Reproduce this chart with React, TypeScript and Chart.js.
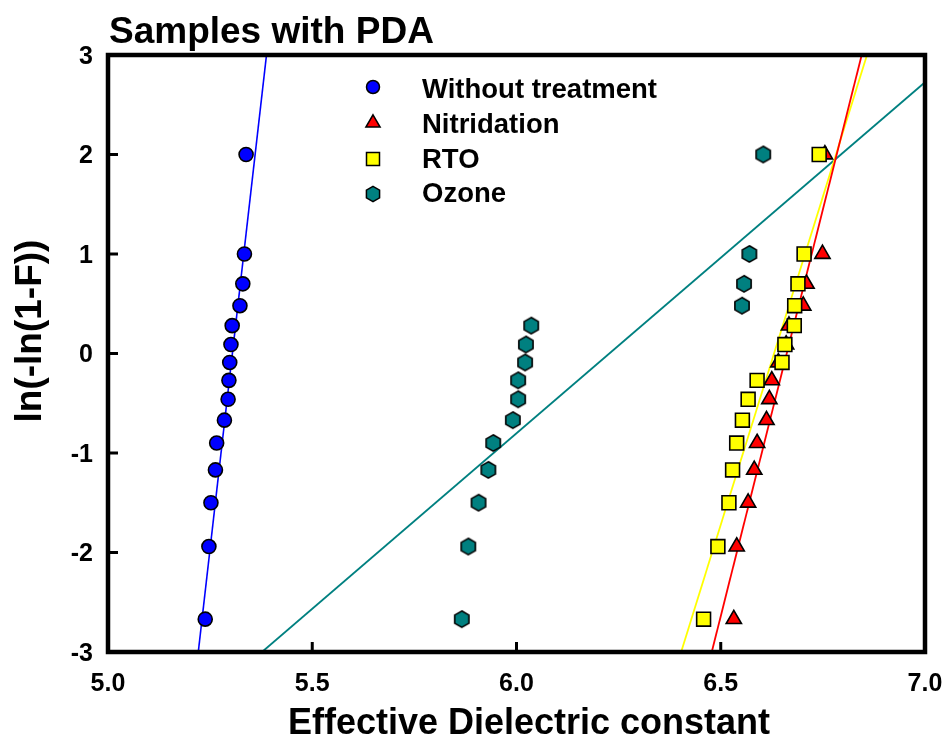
import React, { useEffect, useRef } from 'react';
import { Chart, registerables } from 'chart.js';

Chart.register(...registerables);

// ---- data ----
const probY = [-2.67, -1.94, -1.5, -1.17, -0.9, -0.67, -0.46, -0.27, -0.09, 0.09, 0.28, 0.48, 0.7, 1.0, 2.0];
const withoutX = [5.238, 5.247, 5.252, 5.263, 5.266, 5.285, 5.294, 5.296, 5.298, 5.301, 5.304, 5.323, 5.33, 5.334, 5.338];
const nitridationX = [6.532, 6.539, 6.567, 6.582, 6.589, 6.612, 6.619, 6.625, 6.641, 6.66, 6.667, 6.702, 6.71, 6.749, 6.755];
const rtoX = [6.458, 6.493, 6.52, 6.529, 6.539, 6.553, 6.567, 6.589, 6.65, 6.657, 6.68, 6.681, 6.689, 6.704, 6.741];
const ozoneX = [5.866, 5.882, 5.907, 5.931, 5.943, 5.991, 6.004, 6.004, 6.021, 6.023, 6.036, 6.552, 6.557, 6.57, 6.604];

const fitY = [-3, 3];
const withoutFitX = [5.221, 5.388];
const nitridationFitX = [6.478, 6.845];
const rtoFitX = [6.403, 6.858];
const ozoneFitX = [5.377, 7.0];
const ozoneFitY = [-3, 2.726];

const xTicks = [5.0, 5.5, 6.0, 6.5, 7.0];
const yTicks = [-3, -2, -1, 0, 1, 2, 3];
const seriesNames = ['Without treatment', 'Nitridation', 'RTO', 'Ozone'];
const titleText = 'Samples with PDA';
const xTitle = 'Effective Dielectric constant';
const yTitle = 'ln(-ln(1-F))';

const BLUE = '#0000FF';
const RED = '#FF0000';
const YELLOW = '#FFFF00';
const TEAL = '#008080';
const FONT = "'Liberation Sans', Arial, Helvetica, sans-serif";

function hexPath(ctx: CanvasRenderingContext2D, cx: number, cy: number, r: number) {
  ctx.beginPath();
  for (let i = 0; i < 6; i++) {
    const a = -Math.PI / 2 + (i * Math.PI) / 3;
    const px = cx + r * Math.cos(a);
    const py = cy + r * Math.sin(a);
    if (i === 0) ctx.moveTo(px, py);
    else ctx.lineTo(px, py);
  }
  ctx.closePath();
}

function makeHexagon(): HTMLCanvasElement {
  const c = document.createElement('canvas');
  c.width = 20;
  c.height = 20;
  const ctx = c.getContext('2d')!;
  hexPath(ctx, 10, 10, 8.2);
  ctx.fillStyle = TEAL;
  ctx.fill();
  ctx.lineWidth = 1.6;
  ctx.strokeStyle = '#000';
  ctx.stroke();
  return c;
}

const pts = (xs: number[], ys: number[]) => xs.map((x, i) => ({ x, y: ys[i] }));

export default function App() {
  const ref = useRef<HTMLCanvasElement>(null);

  useEffect(() => {
    document.body.style.margin = '0';
    const hex = makeHexagon();

    const framePlugin = {
      id: 'frame',
      afterDatasetsDraw(chart: any) {
        const { ctx, chartArea } = chart;
        const { left, right, top, bottom } = chartArea;
        const xs = chart.scales.x;
        const ys = chart.scales.y;
        ctx.save();
        ctx.strokeStyle = '#000';
        ctx.lineWidth = 3;
        ctx.lineCap = 'butt';
        xTicks.forEach((v) => {
          const px = xs.getPixelForValue(v);
          ctx.beginPath();
          ctx.moveTo(px, bottom);
          ctx.lineTo(px, bottom - 10);
          ctx.stroke();
        });
        yTicks.forEach((v) => {
          const py = ys.getPixelForValue(v);
          ctx.beginPath();
          ctx.moveTo(left, py);
          ctx.lineTo(left + 10, py);
          ctx.stroke();
        });
        ctx.lineWidth = 4.5;
        ctx.lineJoin = 'miter';
        ctx.strokeRect(left, top, right - left, bottom - top);
        ctx.restore();
      },
      afterDraw(chart: any) {
        const { ctx } = chart;
        ctx.save();
        ctx.fillStyle = '#000';
        // title
        ctx.font = `bold 37px ${FONT}`;
        ctx.textAlign = 'left';
        ctx.textBaseline = 'alphabetic';
        ctx.fillText(titleText, 109, 43);
        // axis titles
        ctx.font = `bold 36px ${FONT}`;
        ctx.textAlign = 'center';
        ctx.textBaseline = 'middle';
        ctx.fillText(xTitle, 529, 724);
        ctx.save();
        ctx.translate(31, 331);
        ctx.rotate(-Math.PI / 2);
        ctx.font = `bold 37px ${FONT}`;
        ctx.fillText(yTitle, 0, 0);
        ctx.restore();
        // legend
        const mx = 373;
        const my = [87, 123, 159, 194];
        const tb = [98, 133, 168, 202];
        ctx.lineWidth = 1.5;
        ctx.strokeStyle = '#000';
        ctx.beginPath();
        ctx.arc(mx, my[0], 6.5, 0, Math.PI * 2);
        ctx.fillStyle = BLUE;
        ctx.fill();
        ctx.stroke();
        const r = 8.2;
        ctx.beginPath();
        ctx.moveTo(mx, my[1] - r);
        ctx.lineTo(mx + r * 0.866, my[1] + r * 0.5);
        ctx.lineTo(mx - r * 0.866, my[1] + r * 0.5);
        ctx.closePath();
        ctx.fillStyle = RED;
        ctx.fill();
        ctx.stroke();
        ctx.beginPath();
        ctx.rect(mx - 6.5, my[2] - 6.5, 13, 13);
        ctx.fillStyle = YELLOW;
        ctx.fill();
        ctx.stroke();
        hexPath(ctx, mx, my[3], 7.6);
        ctx.fillStyle = TEAL;
        ctx.fill();
        ctx.stroke();
        ctx.fillStyle = '#000';
        ctx.font = `bold 27.5px ${FONT}`;
        ctx.textAlign = 'left';
        ctx.textBaseline = 'alphabetic';
        seriesNames.forEach((n, i) => ctx.fillText(n, 422, tb[i]));
        ctx.restore();
      },
    };

    const lineDs = (label: string, xs: number[], ys: number[], color: string, w: number) => ({
      label,
      data: pts(xs, ys),
      showLine: true,
      borderColor: color,
      backgroundColor: color,
      borderWidth: w,
      pointRadius: 0,
      fill: false,
      order: 10,
    });

    const chart = new Chart(ref.current!, {
      type: 'scatter',
      data: {
        datasets: [
          lineDs('fit1', withoutFitX, fitY, BLUE, 1.6),
          lineDs('fit2', nitridationFitX, fitY, RED, 1.8),
          lineDs('fit3', rtoFitX, fitY, YELLOW, 1.8),
          lineDs('fit4', ozoneFitX, ozoneFitY, TEAL, 1.8),
          {
            label: seriesNames[0],
            data: pts(withoutX, probY),
            pointStyle: 'circle',
            pointRadius: 7,
            backgroundColor: BLUE,
            borderColor: '#000',
            borderWidth: 1.6,
            order: 4,
          },
          {
            label: seriesNames[1],
            data: pts(nitridationX, probY),
            pointStyle: 'triangle',
            pointRadius: 8.8,
            backgroundColor: RED,
            borderColor: '#000',
            borderWidth: 1.6,
            order: 3,
          },
          {
            label: seriesNames[2],
            data: pts(rtoX, probY),
            pointStyle: 'rect',
            pointRadius: 9.8,
            backgroundColor: YELLOW,
            borderColor: '#000',
            borderWidth: 1.6,
            order: 2,
          },
          {
            label: seriesNames[3],
            data: pts(ozoneX, probY),
            pointStyle: hex as any,
            pointRadius: 9,
            backgroundColor: TEAL,
            borderColor: '#000',
            borderWidth: 1.6,
            order: 1,
          },
        ] as any,
      },
      options: {
        animation: false,
        responsive: false,
        maintainAspectRatio: false,
        devicePixelRatio: 1,
        events: [],
        layout: { padding: { left: 0, top: 55, right: 23, bottom: 0 } },
        plugins: {
          legend: { display: false },
          title: { display: false },
          tooltip: { enabled: false },
        },
        scales: {
          x: {
            type: 'linear',
            min: 5,
            max: 7,
            afterBuildTicks: (s: any) => {
              s.ticks = xTicks.map((v) => ({ value: v }));
            },
            afterFit: (s: any) => {
              s.height = 95;
              s.paddingLeft = 0;
              s.paddingRight = 0;
            },
            grid: { display: false, drawTicks: false },
            border: { display: false },
            ticks: {
              color: '#000',
              padding: 17,
              maxRotation: 0,
              font: { family: FONT, size: 25, weight: 'bold' },
              callback: (v: any) => Number(v).toFixed(1),
            },
            title: { display: false, text: xTitle },
          },
          y: {
            type: 'linear',
            min: -3,
            max: 3,
            afterBuildTicks: (s: any) => {
              s.ticks = yTicks.map((v) => ({ value: v }));
            },
            afterFit: (s: any) => {
              s.width = 108;
              s.paddingTop = 0;
              s.paddingBottom = 0;
            },
            grid: { display: false, drawTicks: false },
            border: { display: false },
            ticks: {
              color: '#000',
              padding: 15,
              labelOffset: 2,
              font: { family: FONT, size: 25, weight: 'bold' },
              callback: (v: any) => String(v),
            },
            title: { display: false, text: yTitle },
          },
        },
      } as any,
      plugins: [framePlugin],
    });
    return () => chart.destroy();
  }, []);

  return (
    <div style={{ position: 'absolute', left: 0, top: 0, width: 948, height: 747 }}>
      <canvas ref={ref} width={948} height={747} style={{ width: 948, height: 747, display: 'block' }} />
    </div>
  );
}
